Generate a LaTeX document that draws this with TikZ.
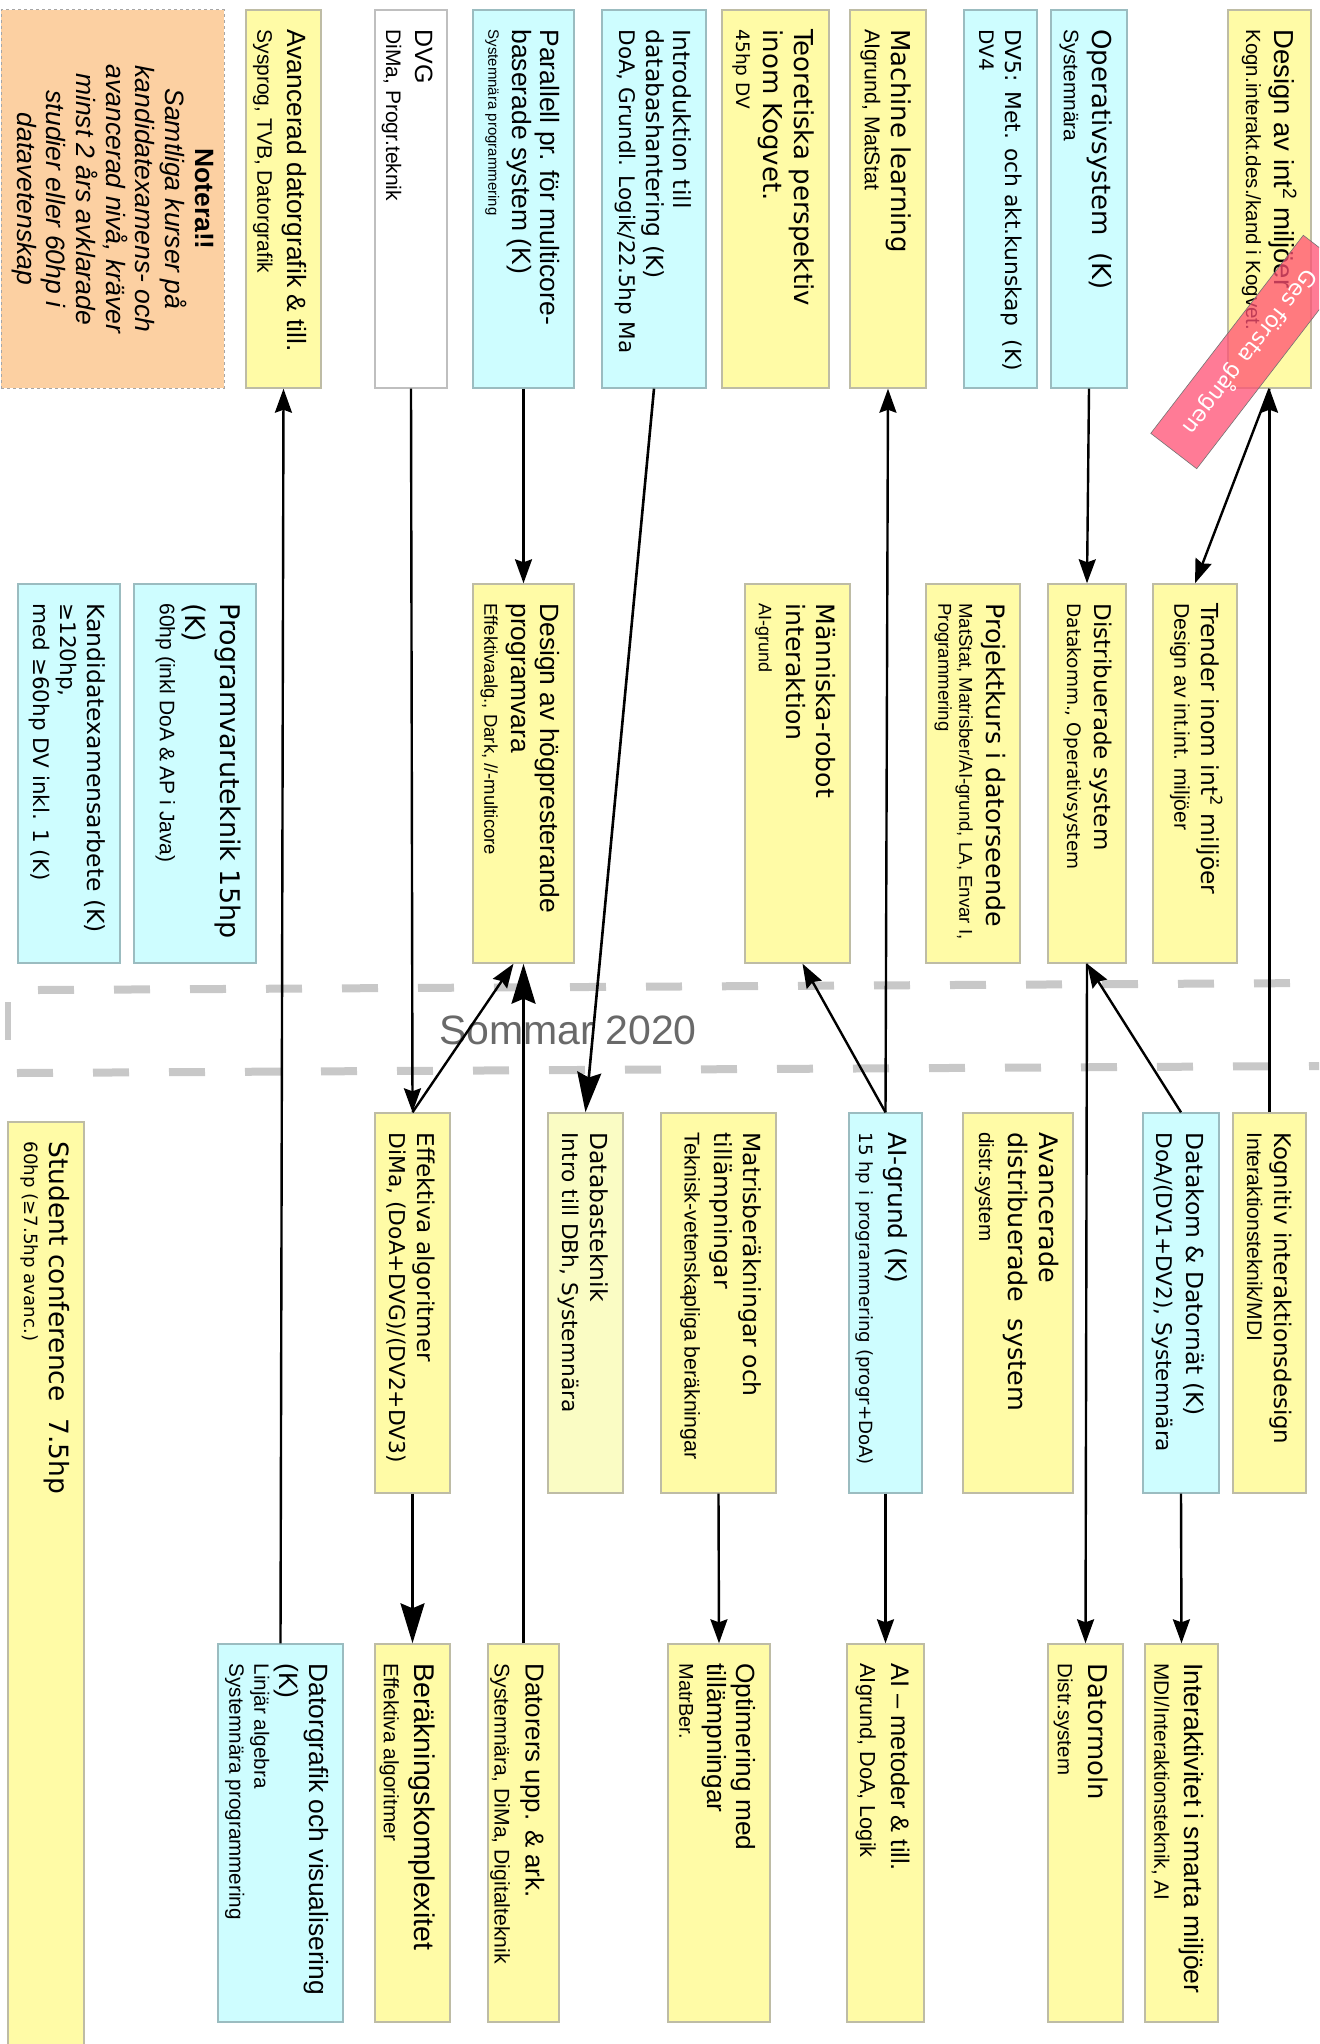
\documentclass[tikz,border=0pt]{standalone}
\usepackage{fontspec}
\setmainfont{DejaVu Sans}
\newfontfamily\ar{Liberation Sans}
\usetikzlibrary{arrows.meta,fit}
\newcommand\fs[2]{\fontsize{#1}{#2}\selectfont}
\newcommand\sa[1]{\ar\fontsize{#1}{#1}\selectfont}
\newcommand\sd[1]{\fontsize{#1}{#1}\selectfont}
\definecolor{cy}{RGB}{206,253,255}
\definecolor{ye}{RGB}{255,251,166}
\definecolor{ly}{RGB}{250,252,196}
\definecolor{pe}{RGB}{252,208,162}
\definecolor{ybd}{RGB}{190,188,165}
\definecolor{cbd}{RGB}{155,188,192}
\definecolor{dashgray}{RGB}{200,200,200}
\definecolor{banner}{RGB}{255,80,115}
\tikzset{
 cbox/.style={draw=cbd, fill=cy, line width=1.4pt, inner sep=0pt},
 ybox/.style={draw=ybd, fill=ye, line width=1.4pt, inner sep=0pt},
 lbox/.style={draw=ybd, fill=ly, line width=1.4pt, inner sep=0pt},
 wbox/.style={draw=black!25, fill=white, line width=1.4pt, inner sep=0pt},
 nbox/.style={draw=black!35, dashed, fill=pe, line width=1pt, inner sep=0pt},
 txt/.style={rotate=-90, anchor=north west, inner sep=0pt, align=left},
 arr/.style={line width=2.4pt, -{Stealth[length=24pt,width=17pt,inset=3pt]}},
 bigarr/.style={line width=2.6pt, -{Stealth[length=40pt,width=24pt,inset=5pt]}},
}
\newcommand\course[5]{%
  \node[#2, fit={#3}] (#1) {};
  \node[txt, font=#4] (#1-t) at ([shift={(-15,20)}]#1.north east) {#5};
}
\begin{document}
\begin{tikzpicture}[x=1pt,y=-1pt]
\useasboundingbox (0,0) rectangle (1319,2044);
\clip (0,0) rectangle (1319,2044);
\fill[white] (0,0) rectangle (1319,2044);

% summer band
\draw[dashgray, line width=8pt, dash pattern=on 36pt off 40pt] (38,990) -- (1319,983);
\draw[dashgray, line width=8pt, dash pattern=on 36pt off 40pt] (17,1073) -- (1319,1066);
\draw[dashgray, line width=6pt] (8,1002) -- (8,1040);
\node[font=\ar\fs{41}{41}, text={rgb,255:red,105;green,105;blue,105}, inner sep=0pt] (sommar) at (568,1030) {Sommar 2020};

% row 1
\node[nbox, fit={(1,10)(224,388)}] (noter) {};
\node[rotate=-90, align=center, inner sep=0pt, font=\ar\itshape\fs{26.5}{29.7}] (noter-t) at (noter.center)
 {{\bfseries\upshape Notera!!}\\Samtliga kurser på\\kandidatexamens- och\\avancerad nivå, kräver\\minst 2 års avklarade\\studier eller 60hp i\\datavetenskap};
\course{avdg}{ybox}{(246,10)(321,388)}{\ar\fs{26.4}{30}}{Avancerad datorgrafik \& till.\\\sa{21}Sysprog, TVB, Datorgrafik}
\course{dvg}{wbox}{(375,10)(447,388)}{\ar\fs{25}{29}}{DVG\\\sa{21}DiMa, Progr.teknik}
\course{par}{cbox}{(473,10)(574,388)}{\ar\fs{26.5}{27.5}}{Parallell pr. för multicore-\\baserade system (K)\\[-3pt]\sa{15}Systemnära programmering}
\course{intro}{cbox}{(602,10)(706,388)}{\fs{23.5}{27}}{Introduktion till\\databashantering (K)\\\sd{21.5}DoA, Grundl. Logik/22.5hp Ma}
\course{teor}{ybox}{(722,10)(829,388)}{\fs{26}{31.5}}{Teoretiska perspektiv\\inom Kogvet.\\[-4.5pt]\sd{18.5}45hp DV}
\course{ml}{ybox}{(850,10)(926,388)}{\fs{26}{30}}{Machine learning\\[-3pt]\sa{21.4}AIgrund, MatStat}
\course{dvfem}{cbox}{(964,10)(1037,388)}{\fs{21.8}{26}}{DV5: Met. och akt.kunskap\ \ (K)\\\sd{20}DV4}
\course{os}{cbox}{(1051,10)(1127,388)}{\fs{26}{30}}{Operativsystem\ \ (K)\\[-1pt]\sa{21}Systemnära}
\course{dint}{ybox}{(1228,10)(1311,388)}{\ar\fs{27.5}{31}}{Design av int\textsuperscript{2} miljöer\\[-3pt]\sa{20.5}Kogn.interakt.des./kand i Kogvet.}

% row 2
\course{kand}{cbox}{(18,584)(120,963)}{\fs{23.5}{27}}{Kandidatexamensarbete (K)\\\sd{21.5}≥120hp,\\\sd{21.5}med ≥60hp DV inkl. 1 (K)}
\course{prog}{cbox}{(134,584)(256,963)}{\fs{27}{35}}{Programvaruteknik 15hp\\(K)\\[-9pt]\sa{21}60hp (inkl DoA \& AP i Java)}
\course{dhp}{ybox}{(473,584)(574,963)}{\ar\fs{26.4}{29}}{Design av högpresterande\\programvara\\[-2pt]\sa{18.5}Effektivaalg., Dark, //-multicore}
\course{mrob}{ybox}{(745,584)(850,963)}{\fs{25.2}{30}}{Människa-robot\\interaktion\\[-2.5pt]\sa{18}AI-grund}
\course{proj}{ybox}{(926,584)(1020,963)}{\fs{25.3}{29}}{Projektkurs i datorseende\\[-2pt]\sa{18.6}MatStat, Matrisber/AI-grund, LA, Envar I,\\[-8pt]\sa{18.6}Programmering}
\course{dist}{ybox}{(1048,584)(1126,963)}{\fs{23}{27}}{Distribuerade system\\\sd{18.5}Datakomm., Operativsystem}
\course{trend}{ybox}{(1153,584)(1237,963)}{\fs{23.4}{27}}{Trender inom int\textsuperscript{2} miljöer\\\sa{21.2}Design av int.int. miljöer}

% row 3
\course{stud}{ybox}{(8,1122)(84,2050)}{\fs{26.5}{30}}{Student conference\ \ 7.5hp\\[-5pt]\sd{18.2}60hp (≥7.5hp avanc.)}
\course{effa}{ybox}{(375,1113)(450,1493)}{\fs{23.1}{27}}{Effektiva algoritmer\\[1.5pt]\sd{21.8}DiMa, (DoA+DVG)/(DV2+DV3)}
\course{dbt}{lbox}{(548,1113)(623,1493)}{\fs{23.4}{27}}{Databasteknik\\[1.5pt]\sd{21.7}Intro till DBh, Systemnära}
\course{matr}{ybox}{(661,1113)(776,1493)}{\fs{23.5}{29}}{Matrisberäkningar och\\tillämpningar\\[1pt]\sa{21.3}Teknisk-vetenskapliga beräkningar}
\course{aig}{cbox}{(849,1113)(922,1493)}{\fs{25}{29}}{AI-grund (K)\\\sd{18.2}15 hp i programmering (progr+DoA)}
\course{adist}{ybox}{(963,1113)(1073,1493)}{\fs{25.5}{31}}{Avancerade\\distribuerade\ \ system\\[-2pt]\sa{20.6}distr.system}
\course{dkom}{cbox}{(1143,1113)(1219,1493)}{\fs{23.4}{27}}{Datakom \& Datornät (K)\\[3pt]\sd{21.6}DoA/(DV1+DV2), Systemnära}
\course{kogn}{ybox}{(1233,1113)(1306,1493)}{\fs{22.9}{27}}{Kognitiv interaktionsdesign\\\sa{21.1}Interaktionsteknik/MDI}

% row 4
\course{dgv}{cbox}{(218,1644)(343,2022)}{\ar\fs{26.4}{30}}{Datorgrafik och visualisering\\(K)\\[-5pt]\sa{20.7}Linjär algebra\\[-5pt]\sa{20.7}Systemnära programmering}
\course{berk}{ybox}{(375,1644)(450,2022)}{\ar\fs{28.5}{32}}{Beräkningskomplexitet\\[-1pt]\sa{20.8}Effektiva algoritmer}
\course{dupp}{ybox}{(488,1644)(559,2022)}{\ar\fs{25.9}{30}}{Datorers upp. \& ark.\\[1pt]\sa{21.2}Systemnära, DiMa, Digitalteknik}
\course{opt}{ybox}{(668,1644)(770,2022)}{\ar\fs{26.3}{29}}{Optimering med\\tillämpningar\\[-1pt]\sa{20}MatrBer.}
\course{aim}{ybox}{(847,1644)(924,2022)}{\ar\fs{25.4}{30}}{AI – metoder \& till.\\[1pt]\sd{21.7}AIgrund, DoA, Logik}
\course{dmoln}{ybox}{(1048,1644)(1123,2022)}{\fs{25.9}{30}}{Datormoln\\[1pt]\sa{20.5}Distr.system}
\course{inter}{ybox}{(1145,1644)(1218,2022)}{\ar\fs{26.5}{30}}{Interaktivitet i smarta miljöer\\\sa{20.8}MDI/Interaktionsteknik, AI}

% connectors
\draw[arr] (dgv.north) -- (avdg.south);
\draw[arr] (dvg.south) -- (effa.north);
\draw[arr] (par.south) -- (dhp.north);
\draw[bigarr] (intro.south) -- (dbt.north);
\draw[bigarr] (dupp.north) -- (dhp.south);
\draw[arr] (effa.north) -- ([xshift=-10pt]dhp.south);
\draw[bigarr] (effa.south) -- (berk.north);
\draw[arr] (aig.north) -- (ml.south);
\draw[arr] (aig.north) -- ([xshift=5pt]mrob.south);
\draw[arr] (aig.south) -- (aim.north);
\draw[arr] (matr.south) -- (opt.north);
\draw[arr] (os.south) -- (dist.north);
\draw[arr] (dist.south) -- (dmoln.north);
\draw[arr] (dkom.north) -- (dist.south);
\draw[arr] (dkom.south) -- (inter.north);
\draw[arr] (kogn.north) -- (dint.south);
\draw[arr] (dint.south) -- (trend.north);

% banner
\node[draw=black!55, line width=0.6pt, fill=banner, fill opacity=0.75, text opacity=1, text=white,
      rotate=-127.6, minimum width=250pt, minimum height=58pt, inner sep=0pt, font=\fs{22}{22}]
      (ges) at (1250,352) {Ges första gången};
\end{tikzpicture}
\end{document}
